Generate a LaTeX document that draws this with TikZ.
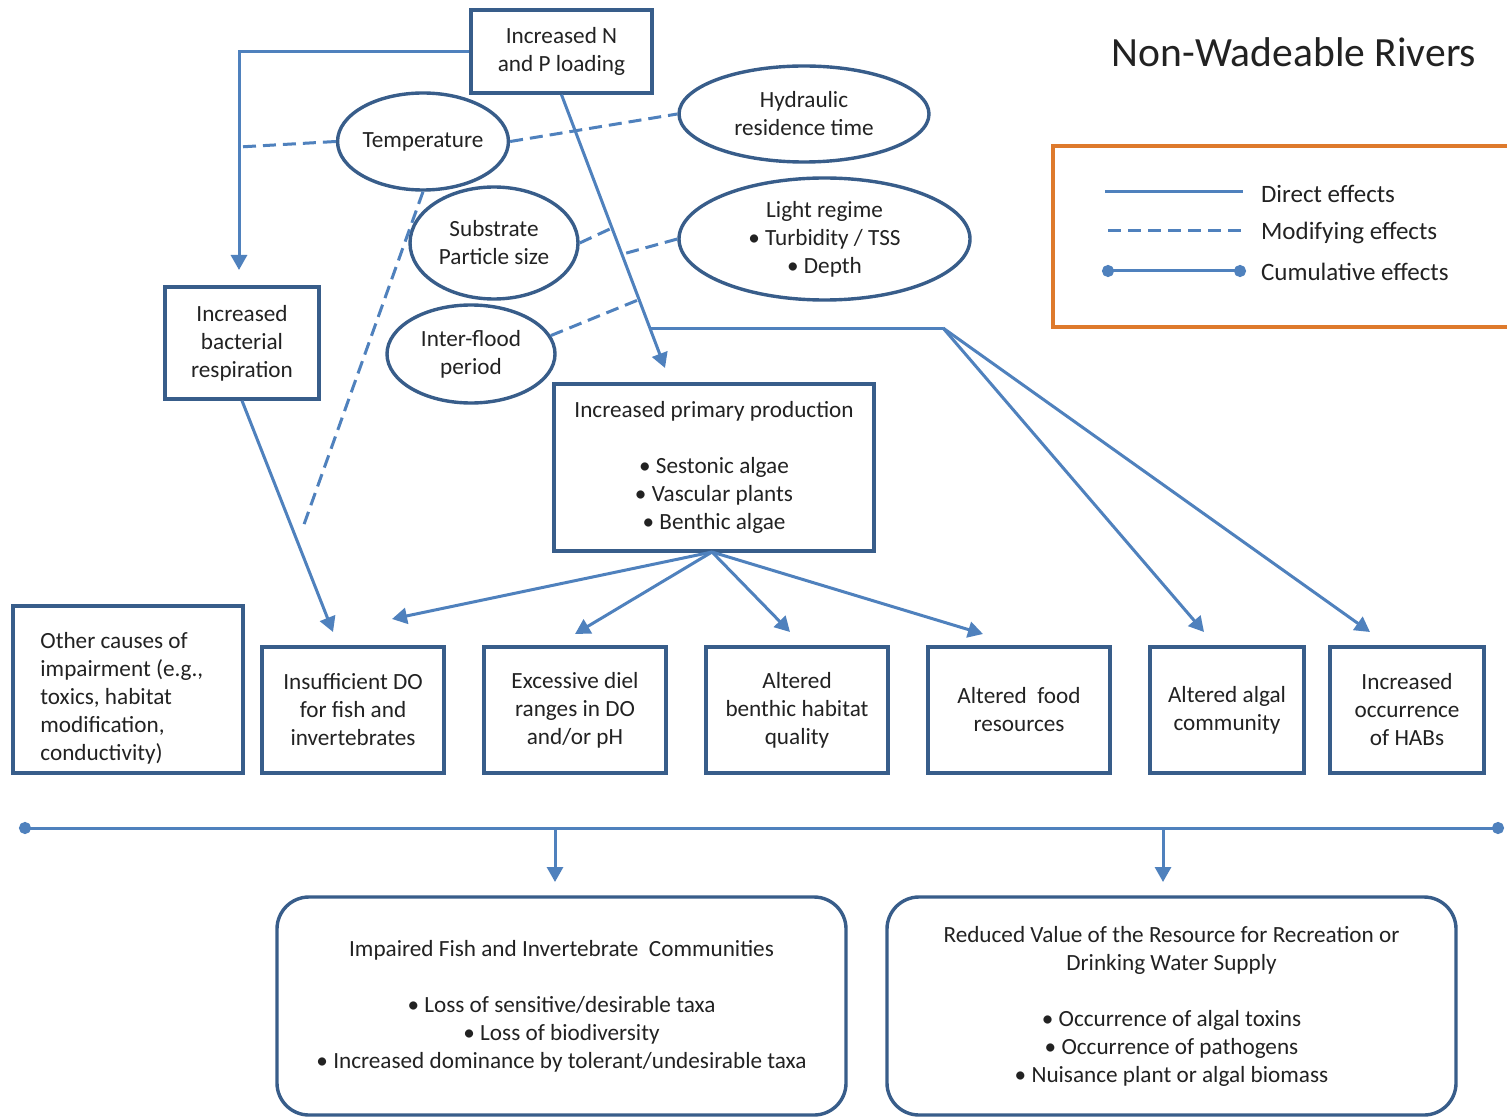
\documentclass[tikz,border=0pt]{standalone}
\usepackage{fontspec}
\setmainfont{Carlito}
\usetikzlibrary{arrows.meta,shapes.geometric}
\definecolor{linkblue}{HTML}{4F81BD}
\definecolor{edgeblue}{HTML}{385D8A}
\definecolor{legendorange}{HTML}{DE7A2C}
\definecolor{inkgray}{HTML}{222222}
\tikzset{
  dims/.style 2 args={minimum width={#1*0.5pt}, minimum height={#2*0.5pt}},
  txt/.style={text=inkgray, font=\fontsize{11.6}{14}\selectfont},
  box/.style={txt, draw=edgeblue, line width=1.7pt, rectangle, inner sep=0pt, align=center},
  oval/.style={txt, draw=edgeblue, line width=1.7pt, ellipse, inner sep=0pt, align=center},
  direct/.style={draw=linkblue, line width=1.5pt},
  modify/.style={draw=linkblue, line width=1.5pt, dash pattern=on 6.5pt off 3.5pt},
  tip/.style={-{Triangle[length=7.5pt,width=8pt]}},
  cumul/.style={draw=linkblue, line width=1.5pt, {Circle[length=6pt]}-{Circle[length=6pt]}},
  legtext/.style={text=inkgray, font=\fontsize{12.5}{15}\selectfont, anchor=west},
}
\begin{document}
\begin{tikzpicture}[x=0.5pt,y=-0.5pt]
\useasboundingbox[fill=white] (0,0) rectangle (1507,1117);

% title
\node[text=inkgray, font=\fontsize{20.8}{24}\selectfont] (title) at (1294,52) {Non-Wadeable Rivers};

% drivers and modifiers
\node[box, dims={181}{83}] (np) at (561.5,51.5) {Increased N\\and P loading};
\node[oval, dims={168}{97}] (temp) at (423,141.5) {Temperature};
\node[oval, dims={250}{96}] (hyd) at (804,114) {Hydraulic\\residence time};
\node[oval, dims={168}{112}] (sub) at (494,243) {Substrate\\Particle size};
\node[oval, dims={291}{122}] (light) at (824.5,239) {Light regime\\• Turbidity / TSS\\• Depth};
\node[oval, dims={168}{98}] (flood) at (471,354) {Inter-flood\\period};
\node[box, dims={154}{112}] (bact) at (242,343) {Increased\\bacterial\\respiration};
\node[box, dims={320}{167}] (pp) at (714,467.5) {Increased primary production\\[14pt]• Sestonic algae\\• Vascular plants\\• Benthic algae};

% responses
\node[box, dims={230}{167}] (other) at (128,689.5) {};
\node[txt, anchor=west, align=left, inner sep=0pt] (otherText) at (40,698.5) {Other causes of\\impairment (e.g.,\\toxics, habitat\\modification,\\conductivity)};
\node[box, dims={182}{126}] (do) at (353,710) {Insufficient DO\\for fish and\\invertebrates};
\node[box, dims={182}{126}] (diel) at (575,710) {Excessive diel\\ranges in DO\\and/or pH};
\node[box, dims={182}{126}] (benthic) at (797,710) {Altered\\benthic habitat\\quality};
\node[box, dims={182}{126}] (food) at (1019,710) {Altered\ \ food\\resources};
\node[box, dims={154}{126}] (algal) at (1227,710) {Altered algal\\community};
\node[box, dims={154}{126}] (habs) at (1407,710) {Increased\\occurrence\\of HABs};

% endpoints
\node[box, rounded corners=16pt, dims={569}{218}] (fish) at (561.5,1006) {Impaired Fish and Invertebrate\ \ Communities\\[14pt]• Loss of sensitive/desirable taxa\\• Loss of biodiversity\\• Increased dominance by tolerant/undesirable taxa};
\node[box, rounded corners=16pt, dims={569}{218}] (value) at (1171.5,1006) {Reduced Value of the Resource for Recreation or\\Drinking Water Supply\\[14pt]• Occurrence of algal toxins\\• Occurrence of pathogens\\• Nuisance plant or algal biomass};

% connector end points
\coordinate (bactIn) at (239,270);
\coordinate (tempJoin) at (239,147);
\coordinate (tempEnd) at (302,530);
\coordinate (ppIn) at (665,368);
\coordinate (subJoin) at (612,228);
\coordinate (lightJoin) at (623,254);
\coordinate (floodJoin) at (638,300);
\coordinate (forkStart) at (650,328);
\coordinate (fork) at (943,328);
\coordinate (algIn) at (1204,632);
\coordinate (habIn) at (1370,632);
\coordinate (doIn) at (333,632);
\coordinate (ppOut) at (712,552);
\coordinate (doIn2) at (392,619);
\coordinate (dielIn) at (575,634);
\coordinate (benthicIn) at (790,632);
\coordinate (foodIn) at (983,634);
\coordinate (cumL) at (19,828);
\coordinate (cumR) at (1504,828);
\coordinate (cumA) at (555,828);
\coordinate (cumB) at (1163,828);
\coordinate (fishIn) at (555,882);
\coordinate (valueIn) at (1163,882);

% direct effects
\draw[direct, tip] (np.west) -| (bactIn);
\draw[direct, tip] (np.south) -- (ppIn);
\draw[direct] (forkStart) -- (fork);
\draw[direct, tip] (fork) -- (algIn);
\draw[direct, tip] (fork) -- (habIn);
\draw[direct, tip] (bact.south) -- (doIn);
\draw[direct, tip] (ppOut) -- (doIn2);
\draw[direct, tip] (ppOut) -- (dielIn);
\draw[direct, tip] (ppOut) -- (benthicIn);
\draw[direct, tip] (ppOut) -- (foodIn);

% modifying effects
\draw[modify] (temp.west) -- (tempJoin);
\draw[modify] (temp.east) -- (hyd.west);
\draw[modify] (temp.south) -- (tempEnd);
\draw[modify] (sub.east) -- (subJoin);
\draw[modify] (light.west) -- (lightJoin);
\draw[modify] (flood.13) -- (floodJoin);

% cumulative effects
\draw[cumul] (cumL) -- (cumR);
\draw[direct, tip] (cumA) -- (fishIn);
\draw[direct, tip] (cumB) -- (valueIn);

% legend
\draw[legendorange, line width=1.8pt] (1507,146) -- (1053,146) -- (1053,327) -- (1507,327);
\coordinate (legA1) at (1105,192); \coordinate (legA2) at (1243,192);
\coordinate (legB1) at (1108,231); \coordinate (legB2) at (1243,231);
\coordinate (legC1) at (1102,271); \coordinate (legC2) at (1246,271);
\draw[direct] (legA1) -- (legA2);
\draw[modify] (legB1) -- (legB2);
\draw[cumul] (legC1) -- (legC2);
\node[legtext] (legAt) at (1254,194) {Direct effects};
\node[legtext] (legBt) at (1254,233) {Modifying effects};
\node[legtext] (legCt) at (1254,272) {Cumulative effects};
\end{tikzpicture}
\end{document}
